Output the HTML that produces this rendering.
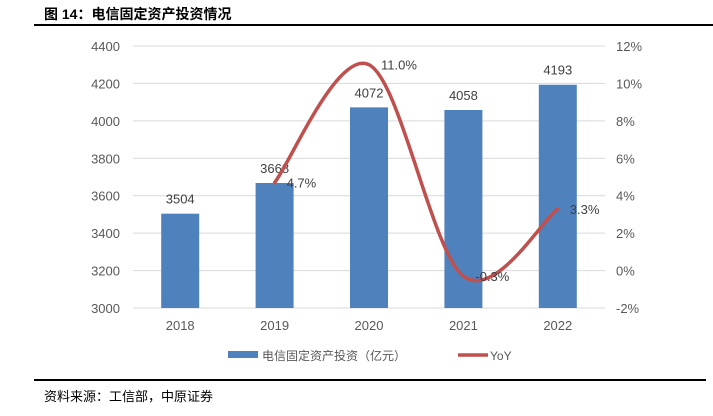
<!DOCTYPE html>
<html><head><meta charset="utf-8"><style>
body{margin:0;background:#fff;width:713px;height:416px;overflow:hidden;font-family:"Liberation Sans","Noto Sans CJK SC",sans-serif}
.t{position:absolute;left:44px;top:4px;font-size:14px;font-weight:bold;color:#000}
.f{position:absolute;left:44px;top:386px;font-size:13px;color:#000}
</style></head><body>
<div class="t">图 14：电信固定资产投资情况</div>
<div style="position:absolute;left:34px;top:24px;width:679px;height:2px;background:#000"></div>
<div style="position:absolute;left:34px;top:379px;width:672px;height:2px;background:#000"></div>
<div class="f">资料来源：工信部，中原证券</div>
<svg id="c" width="713" height="416" style="position:absolute;left:0;top:0"></svg>
<script>
const categories=["2018","2019","2020","2021","2022"];
const investment=[3504,3668,4072,4058,4193];
const yoy=[null,4.7,11.0,-0.3,3.3];
const leftTicks=[3000,3200,3400,3600,3800,4000,4200,4400];
const rightTicks=[-2,0,2,4,6,8,10,12];
const svg=document.getElementById('c');const NS='http://www.w3.org/2000/svg';
function mk(t,a,p){const e=document.createElementNS(NS,t);for(const k in a)e.setAttribute(k,a[k]);(p||svg).appendChild(e);return e;}
const x0=133,x1=605,yTop=46,yBot=308;
const yL=v=>yBot-(v-3000)/1400*(yBot-yTop);
const yR=v=>yBot-(v+2)/14*(yBot-yTop);
const bw=(x1-x0)/categories.length;
const xc=i=>x0+bw*(i+0.5);
leftTicks.forEach(v=>{
 const l=mk('line',{x1:x0,x2:x1,y1:yL(v),y2:yL(v),stroke:'#d9d9d9','stroke-width':1});
 
 const t=mk('text',{x:120,y:yL(v)+5,'text-anchor':'end','font-size':13,fill:'#595959'});t.textContent=v;
 
});
rightTicks.forEach(v=>{
 const t=mk('text',{x:616,y:yR(v)+5,'font-size':13,fill:'#595959'});t.textContent=v+'%';
 
});
categories.forEach((c,i)=>{
 const t=mk('text',{x:xc(i),y:330,'text-anchor':'middle','font-size':13,fill:'#595959'});t.textContent=c;
 
 const b=mk('rect',{x:xc(i)-19,y:yL(investment[i]),width:38,height:yBot-yL(investment[i]),fill:'#4f81bd'});
 
 const v=mk('text',{x:xc(i),y:yL(investment[i])-10,'text-anchor':'middle','font-size':13,fill:'#404040'});v.textContent=investment[i];
 
});
// smooth line (Catmull-Rom)
const pts=[];yoy.forEach((v,i)=>{if(v!==null)pts.push([xc(i),yR(v)]);});
let d='M'+pts[0][0]+','+pts[0][1];
for(let i=0;i<pts.length-1;i++){
 const p0=pts[Math.max(i-1,0)],p1=pts[i],p2=pts[i+1],p3=pts[Math.min(i+2,pts.length-1)];
 const c1=[p1[0]+(p2[0]-p0[0])/6,p1[1]+(p2[1]-p0[1])/6],c2=[p2[0]-(p3[0]-p1[0])/6,p2[1]-(p3[1]-p1[1])/6];
 d+=' C'+c1+' '+c2+' '+p2;
}
const ln=mk('path',{d:d,fill:'none',stroke:'#c0504d','stroke-width':3.5,'stroke-linecap':'round'});

yoy.forEach((v,i)=>{if(v===null)return;
 const t=mk('text',{x:xc(i)+12,y:yR(v)+5,'font-size':13,fill:'#404040'});t.textContent=v.toFixed(1)+'%';
 
});
// legend
const lr=mk('rect',{x:228,y:351,width:30,height:7,fill:'#4f81bd'});

const lt=mk('text',{x:262,y:360,'font-size':12,fill:'#595959'});lt.textContent='电信固定资产投资（亿元）';

const ll=mk('line',{x1:458,x2:488,y1:355,y2:355,stroke:'#c0504d','stroke-width':3.5});

const lt2=mk('text',{x:490,y:360,'font-size':12,fill:'#595959'});lt2.textContent='YoY';

</script>
</body></html>
